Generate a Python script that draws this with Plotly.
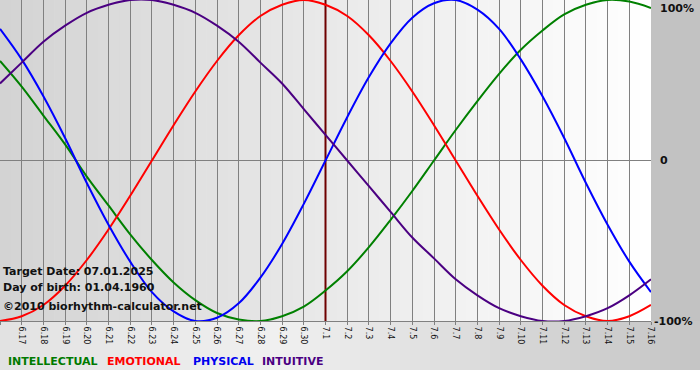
import plotly.graph_objects as go

# ---- data ----
dates = ["6.16", "6.17", "6.18", "6.19", "6.20", "6.21", "6.22", "6.23", "6.24", "6.25",
         "6.26", "6.27", "6.28", "6.29", "6.30", "7.1", "7.2", "7.3", "7.4", "7.5",
         "7.6", "7.7", "7.8", "7.9", "7.10", "7.11", "7.12", "7.13", "7.14", "7.15", "7.16"]
physical = [0.82, 0.63, 0.40, 0.14, -0.14, -0.40, -0.63, -0.82, -0.94, -1.00, -0.98, -0.89,
            -0.73, -0.52, -0.27, 0.00, 0.27, 0.52, 0.73, 0.89, 0.98, 1.00, 0.94, 0.82, 0.63,
            0.40, 0.14, -0.14, -0.40, -0.63, -0.82]
emotional = [-1.00, -0.97, -0.90, -0.78, -0.62, -0.43, -0.22, 0.00, 0.22, 0.43, 0.62, 0.78,
             0.90, 0.97, 1.00, 0.97, 0.90, 0.78, 0.62, 0.43, 0.22, 0.00, -0.22, -0.43, -0.62,
             -0.78, -0.90, -0.97, -1.00, -0.97, -0.90]
intellectual = [0.62, 0.46, 0.28, 0.10, -0.10, -0.28, -0.46, -0.62, -0.76, -0.87, -0.95, -0.99,
                -1.00, -0.97, -0.91, -0.81, -0.69, -0.54, -0.37, -0.19, 0.00, 0.19, 0.37, 0.54,
                0.69, 0.81, 0.91, 0.97, 1.00, 0.99, 0.95]
intuitive = [0.48, 0.61, 0.74, 0.84, 0.92, 0.97, 1.00, 1.00, 0.97, 0.92, 0.84, 0.74, 0.61, 0.48,
             0.32, 0.16, 0.00, -0.16, -0.32, -0.48, -0.61, -0.74, -0.84, -0.92, -0.97, -1.00,
             -1.00, -0.97, -0.92, -0.84, -0.74]
target_day = "7.1"
y_labels = ["100%", "0", "-100%"]
info_lines = ["Target Date: 07.01.2025", "Day of birth: 01.04.1960", "©2010 biorhythm-calculator.net"]
legend_names = ["INTELLECTUAL", "EMOTIONAL", "PHYSICAL", "INTUITIVE"]

# ---- layout geometry ----
W, H = 700, 380
PL, PR, PT, PB = 0, 651, 0, 321   # plot area in pixels
pw, ph = PR - PL, PB - PT

def px(p):
    return (p - PL) / pw

def py(p):
    return (PB - p) / ph

xs = list(range(len(dates)))

line_colors = {"INTELLECTUAL": "#008000", "EMOTIONAL": "#ff0000",
               "PHYSICAL": "#0000ff", "INTUITIVE": "#4b0082"}
text_colors = {"INTELLECTUAL": "#007a00", "EMOTIONAL": "#ff0000",
               "PHYSICAL": "#0000ee", "INTUITIVE": "#4b0082"}
series = {"INTELLECTUAL": intellectual, "EMOTIONAL": emotional,
          "PHYSICAL": physical, "INTUITIVE": intuitive}

fig = go.Figure()

# target-day marker line (drawn first so the curves pass over it)
ti = dates.index(target_day)
fig.add_trace(go.Scatter(x=[ti, ti], y=[-1, 1], mode="lines", name="target",
                         line=dict(color="#6e0000", width=2), hoverinfo="skip"))

for name in legend_names:
    fig.add_trace(go.Scatter(x=xs, y=series[name], mode="lines", name=name,
                             line=dict(color=line_colors[name], width=2, shape="spline", smoothing=1.0),
                             hoverinfo="skip"))

shapes = []

def lerp(a, b, t):
    return a + (b - a) * t

def grey(v):
    v = int(round(v))
    return "rgb(%d,%d,%d)" % (v, v, v)

# plot-area gradient (left grey -> right white)
N = 60
for i in range(N):
    x0 = PL + pw * i / N
    x1 = PL + pw * (i + 1) / N
    t = (i + 0.5) / N
    shapes.append(dict(type="rect", xref="paper", yref="paper", x0=px(x0), x1=px(x1) + 0.001,
                       y0=py(PB), y1=py(PT), fillcolor=grey(lerp(211, 255, t)),
                       line=dict(width=0), layer="below"))

# right margin
shapes.append(dict(type="rect", xref="paper", yref="paper", x0=px(PR), x1=px(W), y0=py(PB), y1=py(0),
                   fillcolor=grey(194), line=dict(width=0), layer="below"))

# bottom band gradient
BB = 370
M = 70
for i in range(M):
    x0 = W * i / M
    x1 = W * (i + 1) / M
    xc = (x0 + x1) / 2
    if xc < 280:
        v = lerp(226, 240, xc / 280)
    else:
        v = lerp(240, 196, (xc - 280) / (W - 280))
    shapes.append(dict(type="rect", xref="paper", yref="paper", x0=px(x0), x1=px(x1) + 0.001,
                       y0=py(BB), y1=py(PB), fillcolor=grey(v), line=dict(width=0), layer="below"))

annotations = []
# right axis labels
ylab_pos = [(659, 8), (659, 161), (653, 321)]
for txt, (lx, ly) in zip(y_labels, ylab_pos):
    annotations.append(dict(text="<b>%s</b>" % txt, xref="paper", yref="paper", x=px(lx), y=py(ly),
                            xanchor="left", yanchor="middle", showarrow=False, borderpad=0,
                            font=dict(family="DejaVu Sans", size=11, color="#111111")))

# info text block
info_pos = [271, 287, 306]
for txt, ly in zip(info_lines, info_pos):
    annotations.append(dict(text="<b>%s</b>" % txt, xref="paper", yref="paper", x=px(2), y=py(ly),
                            xanchor="left", yanchor="middle", showarrow=False, borderpad=0,
                            font=dict(family="DejaVu Sans", size=11, color="#111111")))

# legend words
leg_x = [7, 106, 192, 261]
for name, lx in zip(legend_names, leg_x):
    annotations.append(dict(text="<b>%s</b>" % name, xref="paper", yref="paper", x=px(lx), y=py(361),
                            xanchor="left", yanchor="middle", showarrow=False, borderpad=0,
                            font=dict(family="DejaVu Sans", size=11, color=text_colors[name])))

fig.update_layout(
    width=W, height=H,
    margin=dict(l=PL, r=W - PR, t=PT, b=H - PB, pad=0),
    paper_bgcolor="white", plot_bgcolor="rgba(0,0,0,0)",
    showlegend=False,
    shapes=shapes, annotations=annotations,
    xaxis=dict(range=[0, len(dates) - 1], tickvals=xs, ticktext=dates, tickangle=90,
               showgrid=True, gridcolor="#808080", gridwidth=1,
               ticks="outside", ticklen=3, tickcolor="#808080",
               showline=True, linecolor="#808080", linewidth=1,
               tickfont=dict(family="DejaVu Sans", size=8, color="#111111"),
               zeroline=False, automargin=False, fixedrange=True),
    yaxis=dict(range=[-1, 1], showticklabels=False, showgrid=False,
               zeroline=True, zerolinecolor="#808080", zerolinewidth=1,
               automargin=False, fixedrange=True),
)

fig.write_html("out.html")
